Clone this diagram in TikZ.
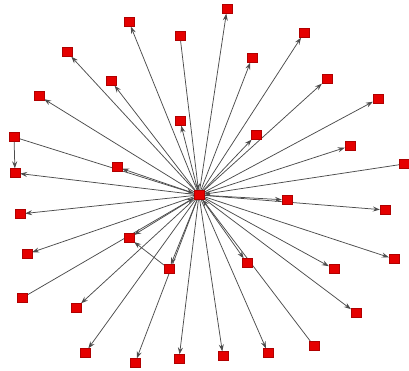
\documentclass[tikz,border=0pt]{standalone}
\usetikzlibrary{arrows.meta}
\pgfdeclarelayer{bg}
\pgfsetlayers{bg,main}
\definecolor{nodered}{HTML}{E50000}
\definecolor{nodeedge}{HTML}{B00000}
\definecolor{edgegray}{HTML}{4C4C4C}
\tikzset{
  vtx/.style={rectangle, fill=nodered, draw=nodeedge, line width=0.3pt, minimum width=10pt, minimum height=9pt, inner sep=0pt},
  edge/.style={draw=edgegray, line width=0.75pt, -{Stealth[length=7pt,width=5pt,inset=2.5pt]}}
}
\begin{document}
\begin{tikzpicture}[x=1pt,y=-1pt]
\useasboundingbox (0,0) rectangle (409,371);
\node[vtx] (c) at (199,195) {};
\node[vtx] (n1) at (129,22) {};
\node[vtx] (n2) at (180,36) {};
\node[vtx] (n3) at (67,52) {};
\node[vtx] (n4) at (111,81) {};
\node[vtx] (n5) at (39,96) {};
\node[vtx] (n6) at (180,121) {};
\node[vtx] (n7) at (14,137) {};
\node[vtx] (n8) at (117,167) {};
\node[vtx] (n9) at (15,173) {};
\node[vtx] (n10) at (227,9) {};
\node[vtx] (n11) at (304,33) {};
\node[vtx] (n12) at (252,58) {};
\node[vtx] (n13) at (327,79) {};
\node[vtx] (n14) at (378,99) {};
\node[vtx] (n15) at (256,135) {};
\node[vtx] (n16) at (350,146) {};
\node[vtx] (n17) at (404,164) {};
\node[vtx] (n18) at (20,214) {};
\node[vtx] (n19) at (27,254) {};
\node[vtx] (n20) at (129,238) {};
\node[vtx] (n21) at (169,269) {};
\node[vtx] (n22) at (22,298) {};
\node[vtx] (n23) at (76,308) {};
\node[vtx] (n24) at (85,353) {};
\node[vtx] (n25) at (135,363) {};
\node[vtx] (n26) at (179,359) {};
\node[vtx] (n27) at (287,200) {};
\node[vtx] (n28) at (385,210) {};
\node[vtx] (n29) at (394,259) {};
\node[vtx] (n30) at (334,269) {};
\node[vtx] (n31) at (247,263) {};
\node[vtx] (n32) at (356,313) {};
\node[vtx] (n33) at (314,346) {};
\node[vtx] (n34) at (268,353) {};
\node[vtx] (n35) at (223,356) {};
\begin{pgfonlayer}{bg}
\foreach \n in {n1,n3,n4,n5,n6,n8,n9,n10,n11,n12,n13,n14,n15,n16,n18,n19,n20,n21,n23,n24,n25,n26,n27,n28,n29,n30,n31,n32,n34,n35}
  \draw[edge] (c) -- (\n);
\foreach \n in {n2,n7,n17,n22,n33}
  \draw[edge] (\n) -- (c);
\draw[edge] (n7) -- (n9);
\draw[edge] (n21) -- (n20);
\end{pgfonlayer}
\end{tikzpicture}
\end{document}
